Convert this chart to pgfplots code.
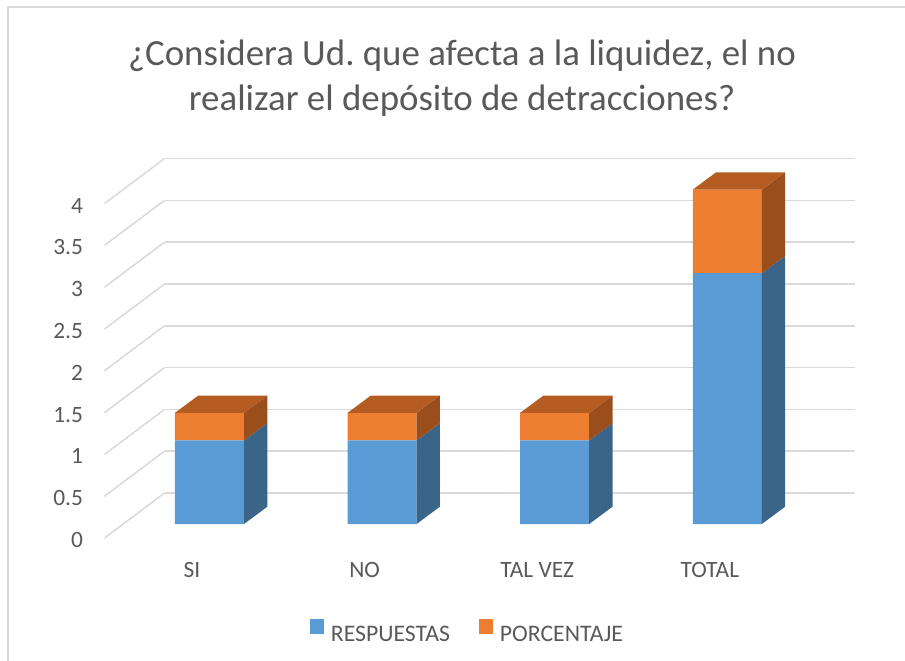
\documentclass[border=0pt]{standalone}
\usepackage{pgfplots}
\pgfplotsset{compat=1.18}
\usepackage{pgfplotstable}
\usepackage{fontspec}
\setmainfont{Carlito}
\frenchspacing
\definecolor{cblue}{HTML}{5B9BD5}
\definecolor{corange}{HTML}{ED7D31}
\definecolor{sblue}{HTML}{3B6489}
\definecolor{sorange}{HTML}{9A4E1C}
\definecolor{torange}{HTML}{B45C22}
\definecolor{gridc}{HTML}{D9D9D9}
\definecolor{txt}{HTML}{595959}

\pgfplotstableread{
x resp pct tot
0 1 0.33 1.33
1 1 0.33 1.33
2 1 0.33 1.33
3 3 1 4
}\data

\pgfdeclareplotmark{sideface}{%
 \pgfpathmoveto{\pgfpoint{34.5bp}{0bp}}%
 \pgfpathlineto{\pgfpoint{57.8bp}{17.3bp}}%
 \pgfpathlineto{\pgfpoint{57.8bp}{17.3bp-\hval*83.6bp}}%
 \pgfpathlineto{\pgfpoint{34.5bp}{-\hval*83.6bp}}%
 \pgfpathclose\pgfusepath{fill}}
\pgfdeclareplotmark{topface}{%
 \pgfpathmoveto{\pgfpoint{-34.5bp}{0bp}}%
 \pgfpathlineto{\pgfpoint{34.5bp}{0bp}}%
 \pgfpathlineto{\pgfpoint{57.8bp}{17.3bp}}%
 \pgfpathlineto{\pgfpoint{-11.2bp}{17.3bp}}%
 \pgfpathclose\pgfusepath{fill}}
\pgfdeclareplotmark{diag}{%
 \pgfpathmoveto{\pgfpoint{-18.7bp}{-14bp}}%
 \pgfpathlineto{\pgfpoint{41.3bp}{31bp}}%
 \pgfusepath{stroke}}

\pgfplotsset{
  common/.style={
    x=172.6bp, y=83.6bp,
    xmin=-0.5, xmax=3.5, ymin=0, ymax=4,
    at={(209.5bp,-524bp)}, anchor=origin,
    clip=false,
  }
}

\begin{document}
\begin{tikzpicture}
\useasboundingbox (0,0) rectangle (905bp,-661bp);
\draw[gridc, line width=1.5bp] (8bp,-700bp) -- (8bp,-7bp) -- (950bp,-7bp);
\node[font=\fontsize{37}{44}\selectfont, text=txt, anchor=base] at (462bp,-65bp) {¿Considera Ud.\ que afecta a la liquidez, el no};
\node[font=\fontsize{37}{44}\selectfont, text=txt, anchor=base] at (462bp,-110bp) {realizar el depósito de detracciones?};

\begin{axis}[common,
  ybar stacked, bar width=0.4,
  axis line style={draw=none}, tick style={draw=none},
  ymajorgrids,
  major grid style={draw=gridc, line width=1.5bp, xshift=41.3bp, yshift=31bp},
  xtick={0,1,2,3}, xticklabels={SI,NO,TAL VEZ,TOTAL},
  ytick={0,0.5,...,4},
  /pgf/number format/assume math mode=true,
  tick label style={font=\fontsize{23.5}{28}\selectfont, text=txt, inner sep=0pt},
  xticklabel style={anchor=base, xshift=-17.5bp, yshift=-53bp},
  yticklabel style={anchor=base east, xshift=-40bp, yshift=-23.5bp},
  legend columns=2,
  legend image code/.code={\fill (0bp,1bp) rectangle (14.5bp,15.5bp);},
  legend style={at={(0.2705,-0.3319)}, anchor=base west, draw=none, fill=none,
    inner sep=0pt, outer sep=0pt, nodes={inner sep=0pt},
    font=\fontsize{23.8}{28}\selectfont, text=txt,
    column sep=6.5bp,
    /tikz/every even column/.append style={column sep=29bp}},
]
\addplot[fill=cblue, draw=none] table[x=x, y=resp] {\data};
\addplot[fill=corange, draw=none] table[x=x, y=pct] {\data};
\legend{RESPUESTAS, PORCENTAJE}
\end{axis}

\begin{axis}[common, hide axis]
\addplot[only marks, mark=diag, mark options={draw=gridc, line width=1.5bp}] coordinates {(-0.5,0) (-0.5,0.5) (-0.5,1) (-0.5,1.5) (-0.5,2) (-0.5,2.5) (-0.5,3) (-0.5,3.5) (-0.5,4)};
\addplot[only marks, mark=sideface, mark options={fill=sblue, draw=none},
  visualization depends on={\thisrow{resp} \as \hval}] table[x=x, y=resp] {\data};
\addplot[only marks, mark=sideface, mark options={fill=sorange, draw=none},
  visualization depends on={\thisrow{pct} \as \hval}] table[x=x, y=tot] {\data};
\addplot[only marks, mark=topface, mark options={fill=torange, draw=none}] table[x=x, y=tot] {\data};
\end{axis}
\end{tikzpicture}
\end{document}
